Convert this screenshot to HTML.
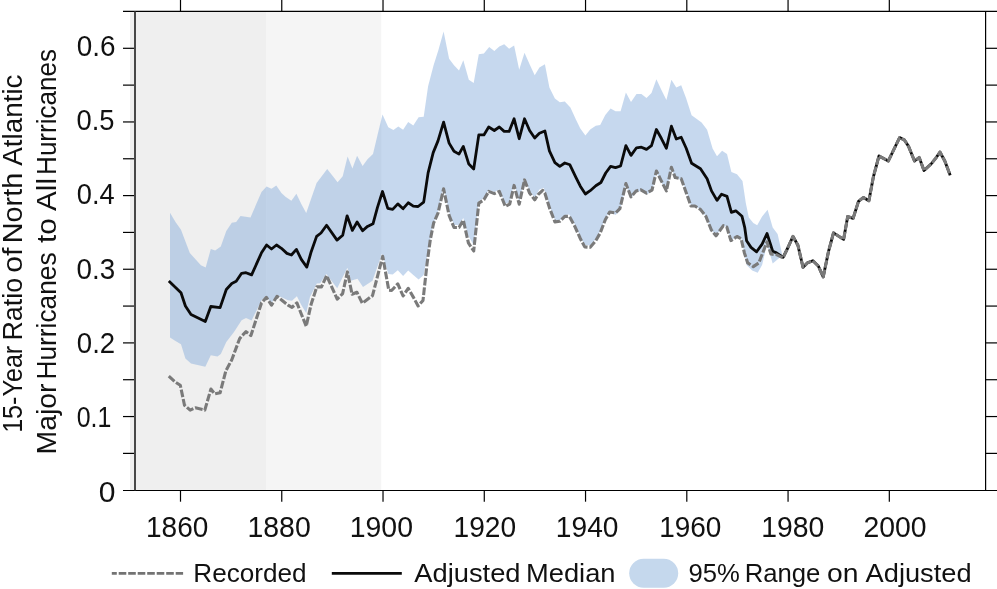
<!DOCTYPE html>
<html><head><meta charset="utf-8"><style>
html,body{margin:0;padding:0;background:#fff;}
body{width:997px;height:589px;overflow:hidden;}
svg{display:block;font-family:"Liberation Sans",sans-serif;will-change:transform;}
</style></head><body>
<svg width="997" height="589" viewBox="0 0 997 589">
<rect x="130" y="12" width="136.6" height="477.9" fill="#efefef"/>
<rect x="266.6" y="12" width="114.6" height="477.9" fill="#f5f5f5"/>
<polygon points="170,212.8 175.5,222 181,229.8 189.8,253 200.9,265.2 205.7,267.4 210.8,249 215.2,250.4 220.8,246.4 226.3,231 231.8,222.8 236.2,222 240.5,215.9 250.5,217.4 261.5,192 266.6,186.5 271.5,188.7 276.3,185.4 281.4,193.1 285.8,196.9 291.4,200.8 296.4,193.8 301.3,204.1 306.2,213 311.2,198.6 316.6,182.9 327.2,169 337.6,182.2 342.7,176.2 347.6,156.4 352.4,168.5 357.1,155.7 362.6,165.9 367.5,159.2 373,154.1 377.4,135.4 382.5,114.4 388.3,127.2 393.4,130 398.3,126.5 403.1,129.8 408.2,122.1 413.3,125.6 418.6,117.2 423.7,116.8 428.1,86.3 433.6,65.3 438.5,49.8 443.6,31.5 449.1,58.7 454,65.3 459,70.4 463.3,60.2 468.8,79.7 473.7,83 478.8,54.3 483.9,53.6 489.2,47 494.3,50.9 499.3,46.5 504.2,44.3 509.1,48.7 514.1,45.4 519.2,69.7 524.5,52.7 529.6,64.2 534.7,75.2 539.4,67.6 544.9,64.3 549.4,87.5 554.9,98.6 559.8,102.3 564.8,101.4 570.4,107.4 575.9,119.6 580.3,128.4 585.4,135.5 590.2,129.5 595.8,125.7 600.2,125.1 605.3,115.1 610.6,108.5 615.5,111.2 620.6,111.2 625.9,92.6 631,101.9 636.5,94.1 641.4,94.1 646.5,97.9 651.5,93 656.4,79.3 661.3,89.7 666.4,100.1 671.4,79.8 676.3,87.5 681.2,85.3 686.2,98.6 691.6,115.3 701.6,122.6 707.1,129.7 712.6,148.5 717,156.2 722.1,150.7 727,154 731.4,172.1 737,174.3 742.5,181 745.8,203 748.8,217.6 753.3,223.1 757.2,225.3 762.1,216.5 767.6,209.8 772.7,227.5 777.6,234.1 780.9,248.5 782,254 782,255.1 778.7,258.5 772.7,263.5 767,244.1 762.1,265.1 757.7,272.8 752.2,270.6 746.6,265.1 741.6,239 737,236.5 730.9,240.6 726.8,227 723.4,225.7 716,235.8 711.2,229.7 705.8,216.2 700.4,209.4 694.9,206 690.9,206 686.2,190.4 681.2,179.5 675.2,178.5 671.4,168 666.4,192 661.3,182 656.4,172 652,191.5 646.5,194.5 640.9,191 636.1,192 631,198 625.9,184.5 619.9,211 615.5,215 609.7,212 605.3,218 600.2,231 595.8,239 590.2,245.5 584.7,245 580.3,236.5 574.8,224.5 569.3,214.5 564.8,215 559.8,220.5 554.9,220 549.4,205.5 543.8,188 539.4,189.5 534.7,197.8 529.6,191 524.5,178 519.2,202 514.1,183.5 509.7,202 505.3,204 499.3,189.5 494.3,192 488.7,189.8 483.9,198 478.8,201 473.7,245 468.4,236 463.3,218 459,225 454,225 449.1,212 443.6,187 438,212 433.2,225 428.1,250 423.7,275 418.6,279.4 413.3,275 408.2,270.6 403.1,276.1 397.8,270.2 392.7,274.6 388.3,273.9 382,253.6 372.5,280.8 363,286.9 357.5,278.7 350.8,280.8 347.4,267.8 337.2,288.2 326.3,274 320.2,283.2 316.8,283.5 310,297 306.2,312.9 301.3,305.1 296.9,296.3 292,300.7 288,300.3 281.9,297.4 277,295.2 271.5,302.9 265.9,296.3 261.5,300.3 251.6,320.6 246,318 241.6,320.2 234,332 226.3,342 220.8,354.1 217.5,356.4 210.8,355.2 205.3,366.7 191,363.6 185.4,358.6 181,344.2 175.5,340.9 170,337.6" fill="rgb(128,168,217)" fill-opacity="0.45"/>
<g fill="none" stroke-linejoin="round">
<polyline points="168.8,281.1 181,292.8 185.4,306 191,314.5 205.3,321.5 210.8,306.5 220.1,307.6 226.3,289.5 231.8,283.5 236.2,281.3 241.6,273.3 246,272.7 251.6,274.9 261.5,252.8 266.6,245 271.5,249 276.5,245 281.4,248.3 286.9,253.4 291.4,255 296.4,249.4 301.3,259.4 306.8,267.1 311.2,251.7 316.6,236.4 321,233 326.6,225.3 337,240.1 342.7,235.2 347.1,215.8 352.4,230.4 357.1,222 362.6,230.8 367.5,226.4 373,223.8 377.4,207.6 382.5,191.5 387.8,208.3 392.7,209.4 397.8,203.9 403.1,208.7 408.2,202.8 413.3,206.1 418.1,206.5 423.7,202.1 428.1,172.9 433.2,152.6 438,140.9 443.6,122.1 449.1,143.1 454,151.3 459,154.1 463.3,146.4 468.8,164.1 473.7,169 478.8,134.9 483.9,134.9 488.7,127 494.3,130.5 499.3,127 504.2,131.4 509.1,131.4 514.1,118.8 519.2,138.7 524.5,118.8 529.6,130.5 534.7,138 539.4,133.2 544.9,131 549.4,150.9 554.9,162.6 559.8,166.4 564.8,163 569.9,164.8 575.9,177.4 580.3,186.2 585.4,194 590.2,190.7 595.8,185.8 600.9,182.5 605.7,173 610.6,166.4 615.5,167.7 620.6,166 625.9,145.6 631,155.4 636.5,147.8 641.4,147.2 646.5,149.4 651.5,145.6 656.4,129.5 661.3,138.3 666.4,148.3 671.4,126.2 676.3,139 681.2,137.2 686.2,148.3 691.6,163.3 700.5,168.8 707.1,178.7 711.5,190.9 717,200.4 721.5,194.2 727,196.4 731.4,212.3 735.8,210.8 742,216.3 744.7,227.3 746.6,240.8 751,247.4 756.6,251.8 762.1,244.1 767,233.5 772.7,251.2 776.5,252.9 783.1,257.3 787.5,248.5 793,236.4 797.9,245.2 803,267.3 807.4,262.9 812.9,260.7 818.3,266 823.2,276.9 828.6,251.1 833.5,232.9 843.6,239.4 847.7,216.5 853.1,218.4 858.5,201.3 863.4,197.5 868.9,200.7 873.5,176.3 879,155.9 888.3,161 899.6,137.6 904.4,140 908.5,146.2 914.5,161 919.2,157.5 924,170.5 931.1,164 935.9,158 940,152.1 944.8,161 950.2,175.3" stroke="#0a0a0a" stroke-width="2.8"/>
<polyline points="168.8,376.1 175.5,382.2 180.3,385.3 184.5,405.2 190.2,410.1 195.4,407.8 204.8,410.1 210.9,389.1 214.8,393.9 220.1,392.8 225.9,370.7 231.8,359.7 239.6,338.7 241.6,336.1 246,331.7 250.9,335.6 261.5,302.9 266.4,297.4 271.5,305.1 277,296.3 281.9,300.3 288,305.1 292,307.3 296.9,302.9 301.3,314 306.2,326.1 311.2,304 316.8,286.9 321.5,286.9 326.6,275.6 337.2,299.1 342.6,293.7 347.4,271.9 352.1,294.3 356.9,292.3 362.3,303.2 372.5,295.7 382.7,256.3 388.8,290.3 391.6,290.5 397.8,283.9 403.1,296 408.2,288.3 413.3,297.1 418.1,306 423,300.4 427,264 430.3,239.7 433.6,223.1 438,213.1 443.6,188.8 449.1,215.4 454,227.5 459,227.5 463.3,220.1 468.4,242.9 473.7,251 478.8,203.1 483.9,199.8 488.7,191.4 494.3,193.6 499.3,191.4 505.3,206.4 509.7,204.2 514.1,185.4 519.2,204.2 524.5,179.9 529.6,193.1 534.7,199.8 538.3,194.3 542.7,190.3 544.9,193.2 549.4,207.6 554.9,221.9 559.8,221.3 564.8,216.4 569.3,216.4 574.8,226.4 580.3,238.5 584.7,246.9 590.2,247.3 595.8,240.7 600.2,233 605.3,219.7 609.7,212 615.5,213 619.9,208.6 625.9,183.6 631,196.9 636.1,190.9 640.9,189.8 646.5,193.1 652,190.2 656.4,171 661.3,180.9 666.4,190.9 671.4,167.2 675.2,177.6 681.2,178.7 685.4,190.4 690.9,206 694.9,206 700.4,209.4 705.8,216.2 711.2,229.7 716,235.8 723.4,225.7 726.8,227 730.9,240.6 737,236.5 741.1,238.6 744.4,252.9 747.7,262.9 753.3,266.6 758.8,262.9 767,241.9 770.9,254 776.5,254.7 783.1,257.8 787.5,248.5 793,236.4 797.9,245.2 803,267.3 807.4,262.9 812.9,260.7 818.3,266 823.2,276.9 828.6,251.1 833.5,232.9 843.6,239.4 847.7,216.5 853.1,218.4 858.5,201.3 863.4,197.5 868.9,200.7 873.5,176.3 879,155.9 888.3,161 899.6,137.6 904.4,140 908.5,146.2 914.5,161 919.2,157.5 924,170.5 931.1,164 935.9,158 940,152.1 944.8,161 950.2,175.3" stroke="#7a7a7a" stroke-width="3.1" stroke-dasharray="7.7 1.9"/>
</g>
<g stroke="#000" stroke-width="1.2">
<line x1="123" y1="11.4" x2="997" y2="11.4"/>
<line x1="123" y1="490.5" x2="997" y2="490.5"/>
<line x1="985.6" y1="11.5" x2="985.6" y2="490.2"/>
<line x1="123" y1="453.38" x2="135.0" y2="453.38"/><line x1="985.6" y1="453.38" x2="997" y2="453.38"/><line x1="123" y1="416.55" x2="135.0" y2="416.55"/><line x1="985.6" y1="416.55" x2="997" y2="416.55"/><line x1="123" y1="379.72" x2="135.0" y2="379.72"/><line x1="985.6" y1="379.72" x2="997" y2="379.72"/><line x1="123" y1="342.90" x2="135.0" y2="342.90"/><line x1="985.6" y1="342.90" x2="997" y2="342.90"/><line x1="123" y1="306.07" x2="135.0" y2="306.07"/><line x1="985.6" y1="306.07" x2="997" y2="306.07"/><line x1="123" y1="269.25" x2="135.0" y2="269.25"/><line x1="985.6" y1="269.25" x2="997" y2="269.25"/><line x1="123" y1="232.42" x2="135.0" y2="232.42"/><line x1="985.6" y1="232.42" x2="997" y2="232.42"/><line x1="123" y1="195.60" x2="135.0" y2="195.60"/><line x1="985.6" y1="195.60" x2="997" y2="195.60"/><line x1="123" y1="158.77" x2="135.0" y2="158.77"/><line x1="985.6" y1="158.77" x2="997" y2="158.77"/><line x1="123" y1="121.95" x2="135.0" y2="121.95"/><line x1="985.6" y1="121.95" x2="997" y2="121.95"/><line x1="123" y1="85.12" x2="135.0" y2="85.12"/><line x1="985.6" y1="85.12" x2="997" y2="85.12"/><line x1="123" y1="48.30" x2="135.0" y2="48.30"/><line x1="985.6" y1="48.30" x2="997" y2="48.30"/><line x1="180.50" y1="0" x2="180.50" y2="11.5"/><line x1="180.50" y1="490.2" x2="180.50" y2="501.7"/><line x1="281.76" y1="0" x2="281.76" y2="11.5"/><line x1="281.76" y1="490.2" x2="281.76" y2="501.7"/><line x1="383.02" y1="0" x2="383.02" y2="11.5"/><line x1="383.02" y1="490.2" x2="383.02" y2="501.7"/><line x1="484.28" y1="0" x2="484.28" y2="11.5"/><line x1="484.28" y1="490.2" x2="484.28" y2="501.7"/><line x1="585.54" y1="0" x2="585.54" y2="11.5"/><line x1="585.54" y1="490.2" x2="585.54" y2="501.7"/><line x1="686.80" y1="0" x2="686.80" y2="11.5"/><line x1="686.80" y1="490.2" x2="686.80" y2="501.7"/><line x1="788.06" y1="0" x2="788.06" y2="11.5"/><line x1="788.06" y1="490.2" x2="788.06" y2="501.7"/><line x1="889.32" y1="0" x2="889.32" y2="11.5"/><line x1="889.32" y1="490.2" x2="889.32" y2="501.7"/>
</g>
<line x1="135.0" y1="11.5" x2="135.0" y2="490.2" stroke="#474747" stroke-width="2"/>
<g font-size="29" fill="#111">
<text x="98.86" y="501.5" textLength="16.72" lengthAdjust="spacingAndGlyphs">0</text><text x="76.64" y="427.2" textLength="34.60" lengthAdjust="spacingAndGlyphs">0.1</text><text x="76.85" y="352.9" textLength="38.31" lengthAdjust="spacingAndGlyphs">0.2</text><text x="76.54" y="278.5" textLength="38.63" lengthAdjust="spacingAndGlyphs">0.3</text><text x="76.86" y="204.2" textLength="37.85" lengthAdjust="spacingAndGlyphs">0.4</text><text x="76.56" y="129.9" textLength="37.99" lengthAdjust="spacingAndGlyphs">0.5</text><text x="76.84" y="55.6" textLength="38.74" lengthAdjust="spacingAndGlyphs">0.6</text>
<text x="145.97" y="537.1" textLength="62.33" lengthAdjust="spacingAndGlyphs">1860</text><text x="247.44" y="537.1" textLength="63.27" lengthAdjust="spacingAndGlyphs">1880</text><text x="349.74" y="537.1" textLength="63.27" lengthAdjust="spacingAndGlyphs">1900</text><text x="453.56" y="537.1" textLength="62.64" lengthAdjust="spacingAndGlyphs">1920</text><text x="555.86" y="537.1" textLength="62.64" lengthAdjust="spacingAndGlyphs">1940</text><text x="659.17" y="537.1" textLength="62.23" lengthAdjust="spacingAndGlyphs">1960</text><text x="761.25" y="537.1" textLength="63.06" lengthAdjust="spacingAndGlyphs">1980</text><text x="863.52" y="537.1" textLength="63.08" lengthAdjust="spacingAndGlyphs">2000</text>
</g>
<g font-size="27" fill="#111">
<text transform="translate(21.7 432.86) rotate(-90)" textLength="87.10" lengthAdjust="spacingAndGlyphs">15-Year</text><text transform="translate(21.7 340.48) rotate(-90)" textLength="62.51" lengthAdjust="spacingAndGlyphs">Ratio</text><text transform="translate(21.7 272.82) rotate(-90)" textLength="25.19" lengthAdjust="spacingAndGlyphs">of</text><text transform="translate(21.7 243.23) rotate(-90)" textLength="70.43" lengthAdjust="spacingAndGlyphs">North</text><text transform="translate(21.7 165.70) rotate(-90)" textLength="91.16" lengthAdjust="spacingAndGlyphs">Atlantic</text><text transform="translate(55.7 454.50) rotate(-90)" textLength="70.94" lengthAdjust="spacingAndGlyphs">Major</text><text transform="translate(55.7 379.45) rotate(-90)" textLength="126.98" lengthAdjust="spacingAndGlyphs">Hurricanes</text><text transform="translate(55.7 243.00) rotate(-90)" textLength="24.78" lengthAdjust="spacingAndGlyphs">to</text><text transform="translate(55.7 211.00) rotate(-90)" textLength="33.02" lengthAdjust="spacingAndGlyphs">All</text><text transform="translate(55.7 174.93) rotate(-90)" textLength="125.96" lengthAdjust="spacingAndGlyphs">Hurricanes</text>
</g>
<g font-size="26" fill="#111">
<line x1="111.8" y1="573.4" x2="183.1" y2="573.4" stroke="#737373" stroke-width="2.8" stroke-dasharray="7.6 1.9" stroke-dashoffset="2.6"/>
<line x1="331.8" y1="573.4" x2="401.8" y2="573.4" stroke="#0a0a0a" stroke-width="2.8"/>
<rect x="629.2" y="558.7" width="49" height="29" rx="14.5" fill="#c5d8ed"/>
<text x="193.39" y="581.5" textLength="113.25" lengthAdjust="spacingAndGlyphs">Recorded</text><text x="414.30" y="581.5" textLength="106.25" lengthAdjust="spacingAndGlyphs">Adjusted</text><text x="526.00" y="581.5" textLength="89.55" lengthAdjust="spacingAndGlyphs">Median</text><text x="688.51" y="581.5" textLength="51.33" lengthAdjust="spacingAndGlyphs">95%</text><text x="744.72" y="581.5" textLength="75.69" lengthAdjust="spacingAndGlyphs">Range</text><text x="826.91" y="581.5" textLength="31.49" lengthAdjust="spacingAndGlyphs">on</text><text x="865.60" y="581.5" textLength="105.94" lengthAdjust="spacingAndGlyphs">Adjusted</text>
</g>
</svg>
</body></html>
